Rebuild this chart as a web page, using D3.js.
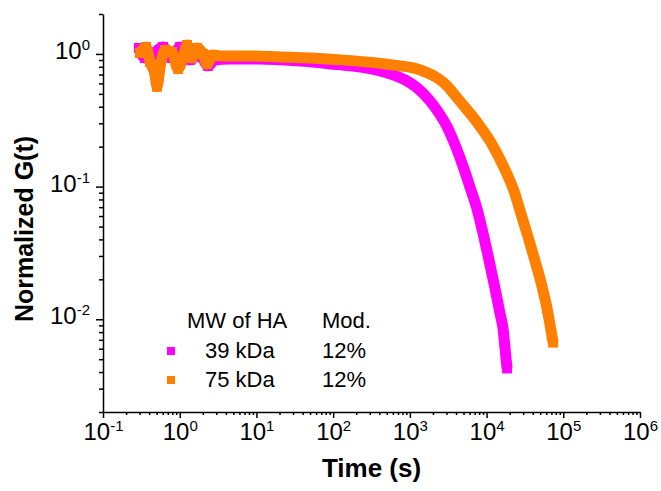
<!DOCTYPE html>
<html>
<head>
<meta charset="utf-8">
<script src="https://cdn.jsdelivr.net/npm/d3@7"></script>
<style>
  body { margin: 0; background: #fff; }
  svg { font-family: Arial, "Liberation Sans", sans-serif; }
</style>
</head>
<body>
<div id="chart"></div>
<script>
// values
const t39 = [0.294, 0.353, 0.436, 0.605, 0.794, 1.01, 1.36, 1.84, 2.34, 2.88, 4.53, 11.1, 20.3, 50, 91, 166, 261, 409, 604, 865, 1241, 1778, 2333, 3055, 3882, 4943, 6095, 7516, 8730, 10470, 12910, 15000, 16410, 17420, 18500];
const g39 = [1.109, 0.933, 0.983, 1.128, 0.933, 1.128, 0.902, 0.983, 0.813, 0.902, 0.917, 0.917, 0.902, 0.871, 0.841, 0.813, 0.785, 0.746, 0.696, 0.638, 0.556, 0.452, 0.367, 0.283, 0.207, 0.142, 0.0986, 0.0676, 0.0478, 0.030, 0.0170, 0.0110, 0.0085, 0.0060, 0.00426];

const t75 = [0.303, 0.364, 0.410, 0.477, 0.506, 0.553, 0.643, 0.794, 0.951, 1.10, 1.245, 1.446, 1.68, 2.01, 2.27, 2.72, 3.35, 8.26, 20.3, 50, 123, 261, 475, 745, 1101, 1578, 2264, 3055, 4121, 5408, 7080, 8995, 11800, 15000, 18500, 22840, 28180, 34750, 42850, 51400, 61500, 73620];
const g75 = [1.017, 1.128, 0.871, 0.696, 0.566, 0.785, 1.071, 1.035, 0.772, 0.933, 1.168, 0.933, 1.109, 1.0, 0.841, 0.983, 0.966, 0.966, 0.950, 0.933, 0.902, 0.871, 0.841, 0.813, 0.785, 0.733, 0.661, 0.575, 0.467, 0.387, 0.320, 0.264, 0.208, 0.160, 0.124, 0.0922, 0.0620, 0.0417, 0.0275, 0.0188, 0.0120, 0.00667];

const series = [
  { mw: "39 kDa", mod: "12%", color: "#ff00ff", t: t39, g: g39 },
  { mw: "75 kDa", mod: "12%", color: "#ff8000", t: t75, g: g75 },
];

const xMajor = [-1, 0, 1, 2, 3, 4, 5, 6];
const yMajor = [-2, -1, 0];

const width = 661, height = 491;
const margin = { top: 14, right: 21, bottom: 79, left: 103 };

const svg = d3.select("#chart").append("svg")
  .attr("width", width)
  .attr("height", height);

const x = d3.scaleLog().domain([0.1, 1e6]).range([margin.left, width - margin.right]);
const y = d3.scaleLog().domain([2e-3, 2]).range([height - margin.bottom, margin.top]);

// minor ticks 2..9 in each decade
const xMinor = [];
for (let e = -1; e < 6; e++) for (let m = 2; m <= 9; m++) xMinor.push(m * Math.pow(10, e));
const yMinor = [];
for (let e = -3; e < 1; e++) for (let m = 2; m <= 9; m++) {
  const v = m * Math.pow(10, e);
  if (v >= 2e-3 && v <= 2) yMinor.push(v);
}

function supLabel(sel, fs, sup) {
  sel.each(function (d) {
    const txt = d3.select(this).text("");
    txt.append("tspan").attr("font-size", fs).text("10");
    txt.append("tspan").attr("font-size", sup).attr("dy", -9).text(Math.round(Math.log10(d)));
  });
}

// X axis
const xAxisG = svg.append("g").attr("transform", `translate(0, ${height - margin.bottom})`);
xAxisG.append("g")
  .call(d3.axisBottom(x).tickValues(xMinor).tickSize(3).tickFormat(""))
  .call((g) => g.select(".domain").remove());
xAxisG.append("g")
  .call(d3.axisBottom(x).tickValues(xMajor.map((e) => Math.pow(10, e))).tickSize(6).tickSizeOuter(0).tickPadding(15))
  .call((g) => g.selectAll(".tick text").attr("dy", "0.71em").call(supLabel, 24, 15));

// Y axis
const yAxisG = svg.append("g").attr("transform", `translate(${margin.left}, 0)`);
yAxisG.append("g")
  .call(d3.axisLeft(y).tickValues(yMinor).tickSize(4).tickFormat(""))
  .call((g) => g.select(".domain").remove());
yAxisG.append("g")
  .call(d3.axisLeft(y).tickValues(yMajor.map((e) => Math.pow(10, e))).tickSize(7).tickSizeOuter(0).tickPadding(6))
  .call((g) => g.selectAll(".tick text").attr("dy", "0.45em").call(supLabel, 24, 15));

svg.selectAll(".domain, .tick line").attr("stroke", "#000").attr("stroke-width", 1.5);
svg.selectAll(".tick text").attr("fill", "#000");

// Axis titles
svg.append("text")
  .attr("x", (margin.left + width - margin.right) / 2)
  .attr("y", 477)
  .attr("text-anchor", "middle")
  .attr("font-size", 26)
  .attr("font-weight", "bold")
  .text("Time (s)");

svg.append("text")
  .attr("transform", "translate(33, 229) rotate(-90)")
  .attr("text-anchor", "middle")
  .attr("font-size", 25)
  .attr("font-weight", "bold")
  .text("Normalized G(t)");

// Data: thick band of square markers
const line = d3.line()
  .x((d) => x(d[0]))
  .y((d) => y(d[1]))
  .curve(d3.curveMonotoneX);

const size = 10;
series.forEach((s) => {
  const pts = s.t.map((t, i) => [t, s.g[i]]);
  const g = svg.append("g");
  g.append("path")
    .datum(pts)
    .attr("d", line)
    .attr("fill", "none")
    .attr("stroke", s.color)
    .attr("stroke-width", 11);
  // squares only show where the points stand apart (noisy start, tail end)
  g.selectAll("rect")
    .data(pts.filter((d, i) => d[0] < 3 || i >= pts.length - 2))
    .join("rect")
    .attr("x", (d) => x(d[0]) - size / 2)
    .attr("y", (d) => y(d[1]) - size / 2)
    .attr("width", size)
    .attr("height", size)
    .attr("fill", s.color);
});

// Legend
const legend = svg.append("g").attr("font-size", 22).attr("fill", "#000");
legend.append("text").attr("x", 187).attr("y", 328).text("MW of HA");
legend.append("text").attr("x", 322).attr("y", 328).text("Mod.");
series.forEach((s, i) => {
  const by = 358 + i * 29;
  legend.append("rect")
    .attr("x", 167).attr("y", by - 11)
    .attr("width", 8).attr("height", 8)
    .attr("fill", s.color);
  legend.append("text").attr("x", 205).attr("y", by).text(s.mw);
  legend.append("text").attr("x", 322).attr("y", by).text(s.mod);
});
</script>
</body>
</html>
